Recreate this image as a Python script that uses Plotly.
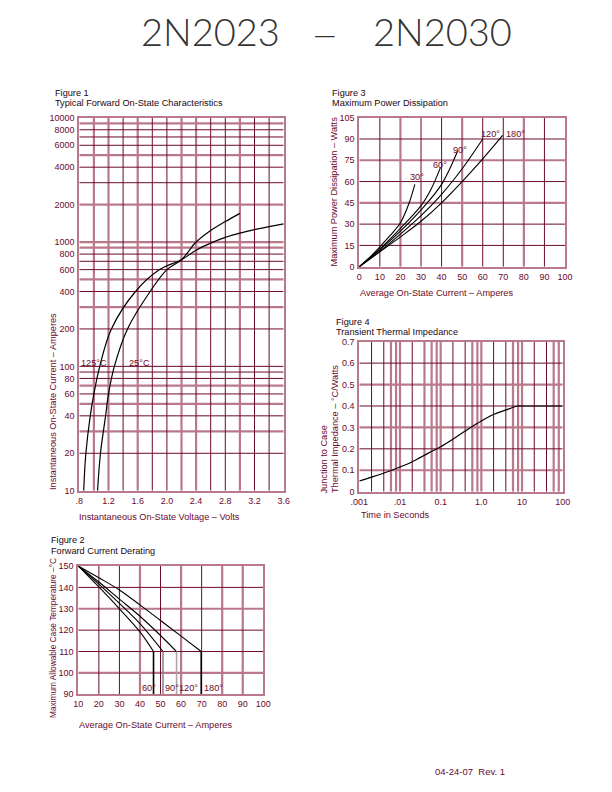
import plotly.graph_objects as go

W, H = 612, 792
OFF = 8  # page body margin the figure sits in
DARK = '#6b0a2c'
LIGHT = '#b9798b'
TXT = '#6b0a2c'
BLK = '#1e0610'
FONT = 'Liberation Sans, Arial, sans-serif'

# ---- Figure 1: forward on-state characteristics
v_125c = [0.86, 0.89, 0.95, 1.0, 1.08, 1.24, 1.57, 1.9, 2.2, 2.4, 2.6, 2.8, 3.0, 3.2, 3.4, 3.6]
i_125c = [10, 20, 40, 60, 100, 200, 400, 600, 720, 860, 980, 1090, 1180, 1260, 1330, 1400]
v_25c = [1.05, 1.09, 1.16, 1.2, 1.28, 1.46, 1.77, 2.0, 2.2, 2.4, 2.6, 2.8, 3.0]
i_25c = [10, 20, 40, 60, 100, 200, 400, 600, 720, 1000, 1240, 1460, 1700]
f1_xticks = [0.8, 1.2, 1.6, 2.0, 2.4, 2.8, 3.2, 3.6]
f1_xtext = ['.8', '1.2', '1.6', '2.0', '2.4', '2.8', '3.2', '3.6']
f1_yticks = [10, 20, 40, 60, 80, 100, 200, 400, 600, 800, 1000, 2000, 4000, 6000, 8000, 10000]
f1_vgrid_dark = [1.4, 1.8, 2.0, 2.6, 2.8, 3.2, 3.4]
f1_vgrid_light = [1.0, 1.2, 1.6, 2.2, 2.4, 3.0]
f1_hgrid_dark = [20, 40, 60, 80, 90, 100, 200, 400, 600, 700, 800, 3000, 4000, 6000, 7000, 8000]
f1_hgrid_light = [30, 50, 70, 300, 500, 900, 1000, 2000, 5000, 9000]

# ---- Figure 3: maximum power dissipation
a_30 = [0, 5, 10, 15, 20, 24, 27]
p_30 = [0, 6.5, 14, 22, 31, 44, 58]
a_60 = [0, 10, 20, 30, 35, 39.5]
p_60 = [0, 12.5, 27, 43, 55, 70]
a_90 = [0, 10, 20, 30, 40, 47.8]
p_90 = [0, 12, 25, 40, 58, 81.5]
a_120 = [0, 10, 20, 30, 40, 50, 60]
p_120 = [0, 11, 23, 36, 51, 69, 90]
a_180 = [0, 10, 20, 30, 40, 50, 60, 69.7]
p_180 = [0, 10.5, 21, 32, 45, 60, 76, 92.5]
f3_xticks = [0, 10, 20, 30, 40, 50, 60, 70, 80, 90, 100]
f3_yticks = [0, 15, 30, 45, 60, 75, 90, 105]
f3_vgrid_dark = [10, 30, 40, 60, 70, 90]
f3_vgrid_light = [20, 50, 80]
f3_hgrid_dark = [15, 30, 60, 90]
f3_hgrid_light = [45, 75]

# ---- Figure 4: transient thermal impedance
t_sec = [0.001, 0.002, 0.005, 0.01, 0.02, 0.05, 0.1, 0.2, 0.5, 1, 2, 5, 8, 10, 100]
z_jc = [0.05, 0.068, 0.093, 0.115, 0.14, 0.18, 0.21, 0.245, 0.295, 0.33, 0.36, 0.388, 0.4, 0.4, 0.4]
f4_xticks = [0.001, 0.01, 0.1, 1, 10, 100]
f4_xtext = ['.001', '.01', '0.1', '1.0', '10', '100']
f4_yticks = [0, 0.1, 0.2, 0.3, 0.4, 0.5, 0.6, 0.7]
f4_ytext = ['0', '0.1', '0.2', '0.3', '0.4', '0.5', '0.6', '0.7']
f4_vgrid_dark = [0.002, 0.004, 0.02, 0.2, 0.4, 2, 4, 20, 40]
f4_vgrid_light = [0.006, 0.008, 0.01, 0.04, 0.06, 0.08, 0.1, 0.6, 0.8, 1, 6, 8, 10, 60, 80]
f4_hgrid_dark = [0.2, 0.4, 0.6]
f4_hgrid_light = [0.1, 0.3, 0.5]

# ---- Figure 2: forward current derating
d_60_i = [10, 20, 30, 40, 46.6]
d_60_t = [150, 140.2, 130, 119.2, 110]
d_90_i = [10, 20, 30, 40, 51.2]
d_90_t = [150, 141.5, 132.5, 123, 110]
d_120_i = [10, 20, 30, 40, 50, 57.8]
d_120_t = [150, 142.5, 134.5, 126.5, 117.5, 110]
d_180_i = [10, 20, 30, 40, 50, 60, 69.8]
d_180_t = [150, 144.5, 138.8, 131.8, 124.5, 117.2, 110]
f2_xticks = [10, 20, 30, 40, 50, 60, 70, 80, 90, 100]
f2_yticks = [90, 100, 110, 120, 130, 140, 150]
f2_vgrid_dark = [20, 30, 50, 70]
f2_vgrid_light = [40, 60, 80, 90]
f2_hgrid_dark = [110, 120, 140]
f2_hgrid_light = [100, 130]


def px(x):
    return (x - OFF) / W


def py(y):
    return 1 - (y - OFF) / H


fig = go.Figure()


def grid(xa, ya, vals, lo, hi, color, width, vertical):
    xs, ys = [], []
    for v in vals:
        if vertical:
            xs += [v, v, None]
            ys += [lo, hi, None]
        else:
            xs += [lo, hi, None]
            ys += [v, v, None]
    fig.add_trace(go.Scatter(x=xs, y=ys, mode='lines', xaxis=xa, yaxis=ya,
                             line=dict(color=color, width=width),
                             hoverinfo='skip', showlegend=False))


def curve(xa, ya, x, y, color='black', width=1.2, shape='spline'):
    fig.add_trace(go.Scatter(x=x, y=y, mode='lines', xaxis=xa, yaxis=ya,
                             line=dict(color=color, width=width, shape=shape),
                             hoverinfo='skip', showlegend=False))


# fig 1 -> x/y ; fig 3 -> x2/y2 ; fig 4 -> x3/y3 ; fig 2 -> x4/y4
grid('x', 'y', f1_vgrid_light, 10, 10000, LIGHT, 2.2, True)
grid('x', 'y', f1_hgrid_light, 0.8, 3.6, LIGHT, 2.2, False)
grid('x', 'y', f1_vgrid_dark, 10, 10000, DARK, 1, True)
grid('x', 'y', f1_hgrid_dark, 0.8, 3.6, DARK, 1, False)
curve('x', 'y', v_125c, i_125c)
curve('x', 'y', v_25c, i_25c)

grid('x2', 'y2', f3_vgrid_light, 0, 105, LIGHT, 2.2, True)
grid('x2', 'y2', f3_hgrid_light, 0, 100, LIGHT, 2.2, False)
grid('x2', 'y2', f3_vgrid_dark, 0, 105, DARK, 1, True)
grid('x2', 'y2', f3_hgrid_dark, 0, 100, DARK, 1, False)
for a, p in [(a_30, p_30), (a_60, p_60), (a_90, p_90), (a_120, p_120), (a_180, p_180)]:
    curve('x2', 'y2', a, p, width=1.1)

grid('x3', 'y3', f4_vgrid_light, 0, 0.7, LIGHT, 2.2, True)
grid('x3', 'y3', f4_hgrid_light, 0.001, 100, LIGHT, 2.2, False)
grid('x3', 'y3', f4_vgrid_dark, 0, 0.7, DARK, 1, True)
grid('x3', 'y3', f4_hgrid_dark, 0.001, 100, DARK, 1, False)
curve('x3', 'y3', t_sec, z_jc)

grid('x4', 'y4', f2_vgrid_light, 90, 150, LIGHT, 2.2, True)
grid('x4', 'y4', f2_hgrid_light, 10, 100, LIGHT, 2.2, False)
grid('x4', 'y4', f2_vgrid_dark, 90, 150, DARK, 1, True)
grid('x4', 'y4', f2_hgrid_dark, 10, 100, DARK, 1, False)
for ci, ct in [(d_60_i, d_60_t), (d_90_i, d_90_t), (d_120_i, d_120_t), (d_180_i, d_180_t)]:
    curve('x4', 'y4', ci, ct, width=1.1)
# vertical drops at the 110 °C knee
for ci, col in [(d_60_i, 'black'), (d_90_i, '#8a8a8a'), (d_120_i, '#a8a8a8'), (d_180_i, 'black')]:
    curve('x4', 'y4', [ci[-1], ci[-1]], [110, 90], color=col, width=1.6, shape='linear')

tf = dict(family=FONT, size=9, color=TXT)
ax_common = dict(showgrid=False, zeroline=False, ticks='', showline=True, mirror=True,
                 linecolor=LIGHT, linewidth=2, tickfont=tf, automargin=False,
                 fixedrange=True)

fig.update_layout(
    width=W, height=H,
    margin=dict(l=0, r=0, t=0, b=0),
    paper_bgcolor='white', plot_bgcolor='white',
    showlegend=False,
    xaxis=dict(ax_common, domain=[px(79.3), px(283.7)], range=[0.8, 3.6],
               tickvals=f1_xticks, ticktext=f1_xtext, anchor='y'),
    yaxis=dict(ax_common, domain=[py(490.7), py(117.7)], type='log', range=[1, 4],
               tickvals=f1_yticks, ticktext=[str(v) for v in f1_yticks], anchor='x',
               ticklabelstandoff=1),
    xaxis2=dict(ax_common, domain=[px(359.3), px(565)], range=[0, 100],
                tickvals=f3_xticks, anchor='y2'),
    yaxis2=dict(ax_common, domain=[py(266.7), py(117.7)], range=[0, 105],
                tickvals=f3_yticks, anchor='x2', ticklabelstandoff=1),
    xaxis3=dict(ax_common, domain=[px(359.3), px(562.7)], type='log', range=[-3, 2],
                tickvals=f4_xticks, ticktext=f4_xtext, anchor='y3'),
    yaxis3=dict(ax_common, domain=[py(491.7), py(341.7)], range=[0, 0.7],
                tickvals=f4_yticks, ticktext=f4_ytext, anchor='x3', ticklabelstandoff=1),
    xaxis4=dict(ax_common, domain=[px(78.3), px(263.3)], range=[10, 100],
                tickvals=f2_xticks, anchor='y4'),
    yaxis4=dict(ax_common, domain=[py(694.3), py(566)], range=[90, 150],
                tickvals=f2_yticks, anchor='x4', ticklabelstandoff=1),
)


def note(text, x, y, size=9.2, color=TXT, xanchor='left', yanchor='middle', angle=0, **kw):
    fig.add_annotation(text=text, x=px(x), y=py(y), xref='paper', yref='paper',
                       xanchor=xanchor, yanchor=yanchor, textangle=angle, showarrow=False,
                       font=dict(family=kw.pop('family', FONT), size=size, color=color,
                                 weight=kw.pop('weight', 'normal')), **kw)


# page title
TITLE_FONT = 'Lato, Roboto, DejaVu Sans, sans-serif'
note('2N2023', 210, 31, size=38, color='#333', xanchor='center', family=TITLE_FONT, weight=300)
note('\u2014', 325, 33, size=30, color='#333', xanchor='center', family=TITLE_FONT, weight=300)
note('2N2030', 442, 31, size=38, color='#333', xanchor='center', family=TITLE_FONT, weight=300)

# figure headings
note('Figure 1', 53, 93, color=BLK)
note('Typical Forward On-State Characteristics', 53, 103.5, color=BLK)
note('Figure 3', 330, 93, color=BLK)
note('Maximum Power Dissipation', 330, 103.5, color=BLK)
note('Figure 4', 334, 322, color=BLK)
note('Transient Thermal Impedance', 334, 332, color=BLK)
note('Figure 2', 49, 540, color=BLK)
note('Forward Current Derating', 49, 551, color=BLK)

# axis titles
note('Instantaneous On-State Voltage \u2013 Volts', 77, 517)
note('Instantaneous On-State Current \u2013 Amperes', 52.5, 492, angle=-90,
     xanchor='center', yanchor='bottom')
note('Average On-State Current \u2013 Amperes', 358, 292.5)
note('Maximum Power Dissipation \u2013 Watts', 333.5, 192, angle=-90, xanchor='center',
     yanchor='middle')
note('Time in Seconds', 359, 514.5)
note('Junction to Case', 323.5, 495, angle=-90, xanchor='center', yanchor='bottom')
note('Thermal Impedance \u2013 \u00b0C/Watts', 335, 495, angle=-90, xanchor='center',
     yanchor='bottom')
note('Average On-State Current \u2013 Amperes', 77, 725)
note('Maximum Allowable Case Temperature \u2013\u00b0C', 53, 638, size=8.3, angle=-90,
     xanchor='center', yanchor='middle')

# curve labels
note('125\u00b0C', 78.5, 363)
note('25\u00b0C', 127, 363)
note('30\u00b0', 408, 177)
note('60\u00b0', 431, 165)
note('90\u00b0', 451, 150)
note('120\u00b0', 479, 134)
note('180\u00b0', 504, 134)
note('60\u00b0', 140, 688)
note('90\u00b0', 163, 688)
note('120\u00b0', 177, 688)
note('180\u00b0', 202, 688)

# footer
note('04-24-07  Rev. 1', 433, 771, size=9.5)

fig.write_html('out.html')
